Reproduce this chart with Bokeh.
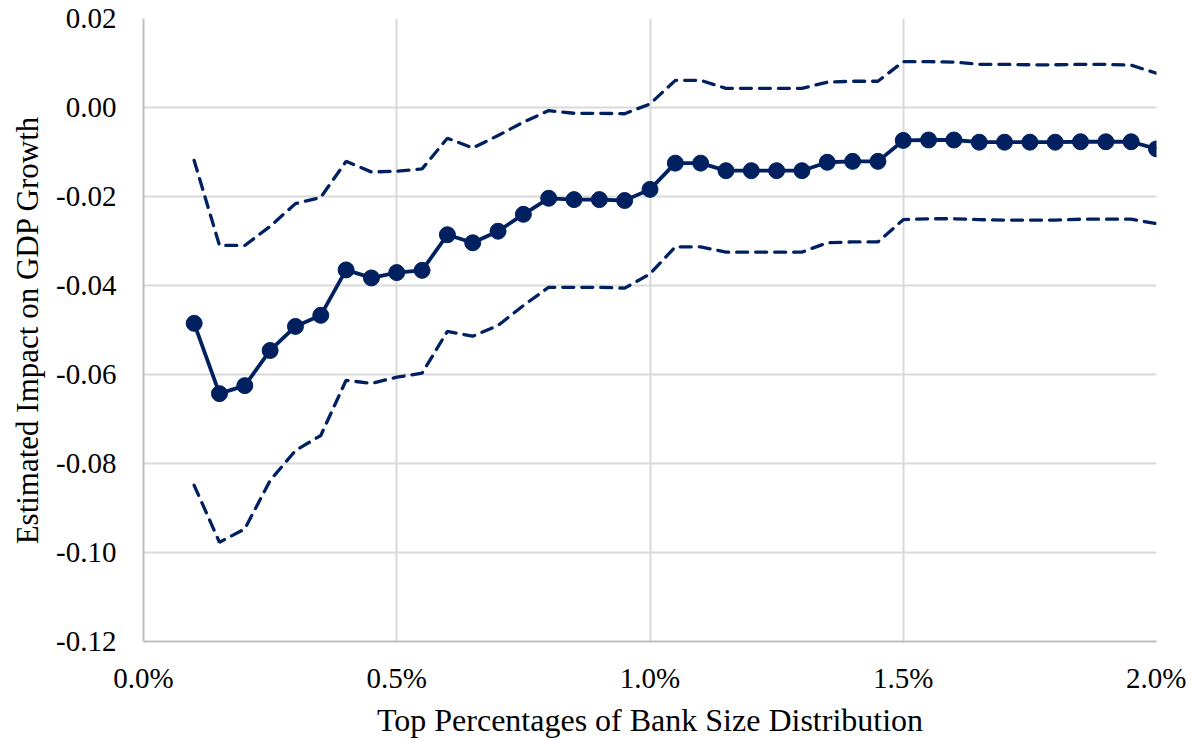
from bokeh.plotting import figure
from bokeh.models import ColumnDataSource, FixedTicker, PrintfTickFormatter, Range1d
from bokeh.embed import file_html
from bokeh.resources import INLINE

# Data (x in percent)
x_pct = [0.10, 0.15, 0.20, 0.25, 0.30, 0.35, 0.40, 0.45, 0.50, 0.55,
         0.60, 0.65, 0.70, 0.75, 0.80, 0.85, 0.90, 0.95, 1.00, 1.05,
         1.10, 1.15, 1.20, 1.25, 1.30, 1.35, 1.40, 1.45, 1.50, 1.55,
         1.60, 1.65, 1.70, 1.75, 1.80, 1.85, 1.90, 1.95, 2.00]
estimate = [-0.0485, -0.0643, -0.0625, -0.0546, -0.0492, -0.0467, -0.0365, -0.0383, -0.0371, -0.0366,
            -0.0286, -0.0304, -0.0278, -0.0240, -0.0204, -0.0207, -0.0207, -0.0209, -0.0184, -0.0125,
            -0.0125, -0.0142, -0.0142, -0.0142, -0.0142, -0.0123, -0.0121, -0.0121, -0.0074, -0.0073,
            -0.0073, -0.0078, -0.0078, -0.0078, -0.0078, -0.0077, -0.0077, -0.0077, -0.0093]
upper = [-0.0119, -0.0310, -0.0310, -0.0267, -0.0216, -0.0202, -0.0121, -0.0145, -0.0143, -0.0138,
         -0.0069, -0.0091, -0.0063, -0.0033, -0.0007, -0.0013, -0.0013, -0.0014, 0.0008, 0.0061,
         0.0061, 0.0043, 0.0043, 0.0043, 0.0043, 0.0057, 0.0059, 0.0059, 0.0103, 0.0103,
         0.0102, 0.0097, 0.0097, 0.0096, 0.0096, 0.0097, 0.0097, 0.0095, 0.0077]
lower = [-0.0849, -0.0977, -0.0947, -0.0838, -0.0771, -0.0737, -0.0613, -0.0620, -0.0606, -0.0597,
         -0.0503, -0.0514, -0.0490, -0.0445, -0.0404, -0.0404, -0.0404, -0.0406, -0.0374, -0.0313,
         -0.0313, -0.0325, -0.0325, -0.0325, -0.0325, -0.0304, -0.0302, -0.0302, -0.0252, -0.0250,
         -0.0250, -0.0252, -0.0253, -0.0253, -0.0253, -0.0251, -0.0251, -0.0251, -0.0261]
x_ticks = [0.0, 0.5, 1.0, 1.5, 2.0]
y_ticks = [-0.12, -0.10, -0.08, -0.06, -0.04, -0.02, 0.00, 0.02]

NAVY = "#002060"
FONT = "Liberation Serif"

src = ColumnDataSource(dict(x=x_pct, est=estimate, up=upper, lo=lower))

p = figure(width=1186, height=743, output_backend="svg", toolbar_location=None,
           x_range=Range1d(0, 2.0), y_range=Range1d(-0.12, 0.02),
           min_border_left=143, min_border_right=30, min_border_top=18, min_border_bottom=102)
p.outline_line_color = None
p.background_fill_color = "white"
p.border_fill_color = "white"

p.line("x", "up", source=src, line_color=NAVY, line_width=3.3, line_dash="11 8", line_cap="round")
p.line("x", "lo", source=src, line_color=NAVY, line_width=3.3, line_dash="11 8", line_cap="round")
p.line("x", "est", source=src, line_color=NAVY, line_width=3.8)
p.scatter("x", "est", source=src, size=16, fill_color=NAVY, line_color=NAVY)

p.xaxis.ticker = FixedTicker(ticks=x_ticks)
p.yaxis.ticker = FixedTicker(ticks=y_ticks)
p.xaxis.formatter = PrintfTickFormatter(format="%.1f%%")
p.yaxis.formatter = PrintfTickFormatter(format="%.2f")

for ax in (p.xaxis, p.yaxis):
    ax.axis_line_color = "#bfbfbf"
    ax.axis_line_width = 2
    ax.major_tick_line_color = None
    ax.minor_tick_line_color = None
    ax.major_label_text_font = FONT
    ax.major_label_text_font_size = "29px"
    ax.major_label_text_color = "black"
    ax.axis_label_text_font = FONT
    ax.axis_label_text_font_style = "normal"
    ax.axis_label_text_color = "black"

p.xaxis.axis_label_text_font_size = "32px"
p.yaxis.axis_label_text_font_size = "31px"
p.xaxis.axis_label = "Top Percentages of Bank Size Distribution"
p.yaxis.axis_label = "Estimated Impact on GDP Growth"
p.xaxis.major_label_standoff = 14
p.yaxis.major_label_standoff = 21
p.xaxis.axis_label_standoff = 5
p.yaxis.axis_label_standoff = 8

p.xgrid.ticker = FixedTicker(ticks=x_ticks)
p.ygrid.ticker = FixedTicker(ticks=y_ticks)
p.grid.grid_line_color = "#d9d9d9"
p.grid.grid_line_width = 2

open("out.html", "w").write(file_html(p, INLINE))
